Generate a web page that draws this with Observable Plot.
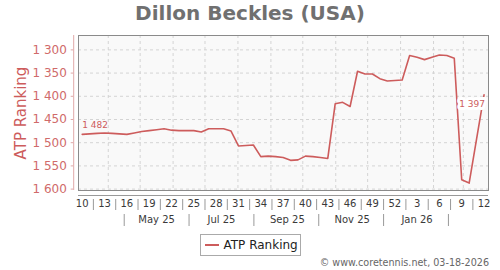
<!DOCTYPE html>
<html><head><meta charset="utf-8">
<script src="https://cdn.jsdelivr.net/npm/d3@7"></script>
<script src="https://cdn.jsdelivr.net/npm/@observablehq/plot@0.6"></script>
<style>
body{margin:0;background:#fff;font-family:"DejaVu Sans",sans-serif;}
#wrap{width:500px;height:270px;overflow:hidden;}
#title{height:28px;line-height:26px;text-align:center;font-weight:bold;font-size:20px;color:#707070;}
#chart svg{display:block;}
#legend{height:24px;padding-top:2px;box-sizing:border-box;display:flex;justify-content:center;}
#legend .box{width:101px;height:22px;box-sizing:border-box;border:1px solid #aaa;display:flex;align-items:center;padding-left:4px;font-size:12px;color:#222;}
#legend .sw{width:14px;height:2px;background:#cd5c5c;margin-right:5px;}
#caption{height:14px;line-height:14px;text-align:right;padding-right:11px;font-size:9.6px;color:#666;}
</style></head>
<body><div id="wrap">
<div id="title">Dillon Beckles (USA)</div>
<div id="chart"></div>
<div id="legend"><div class="box"><span class="sw"></span><span>ATP Ranking</span></div></div>
<div id="caption">© www.coretennis.net, 03-18-2026</div>
</div>
<script>
// ---- data ----
const firstWeek = "2025-03-07T12:00:00Z";
const ranking = [1482,1481,1480,1479,1480,1481,1482,1479,1476,1474,1472,1470,1473,1474,1474,1474,1477,1470,1470,1470,1475,1507,1506,1505,1530,1529,1530,1532,1538,1537,1529,1530,1532,1534,1416,1413,1422,1346,1352,1352,1362,1367,1366,1365,1312,1316,1321,1316,1311,1312,1318,1580,1587,1492,1397];
const weekLabels = [10,13,16,19,22,25,28,31,34,37,40,43,46,49,52,3,6,9,12];
const monthLabels = ["May 25","Jul 25","Sep 25","Nov 25","Jan 26"];
const monthLabelDates = ["2025-05-16","2025-07-16","2025-09-16","2025-11-16","2026-01-16"];
const monthSepDates = ["2025-04-16","2025-06-16","2025-08-16","2025-10-16","2025-12-16","2026-02-15"];
const yTicks = [1300,1350,1400,1450,1500,1550,1600];

// ---- build ----
const DAY = 864e5;
const t0 = new Date(firstWeek);
const data = ranking.map((r, i) => ({date: new Date(+t0 + i * 7 * DAY), rank: r}));
const weekTickDates = weekLabels.map((_, k) => new Date(+t0 + k * 21 * DAY));
const weekLabelOf = new Map(weekTickDates.map((d, k) => [+d, weekLabels[k]]));
const weekSeps = weekLabels.slice(1).map((_, k) => new Date(+t0 + (1.5 + 3 * k) * 7 * DAY));
const mLabDates = monthLabelDates.map(s => new Date(s + "T12:00:00Z"));
const monthLabelOf = new Map(mLabDates.map((d, k) => [+d, monthLabels[k]]));
const mSepDates = monthSepDates.map(s => new Date(s + "T00:00:00Z"));
const gridMonths = d3.utcMonth.range(new Date("2025-04-01T00:00:00Z"), new Date("2026-03-02T00:00:00Z"));
const xDomain = [new Date(+t0 - 3.5 * DAY), new Date(+t0 + 382.2 * DAY)];
const yDomain = [1269, 1603];
const fmt = v => d3.format(",")(v).replace(",", " ");
const red = "#cd5c5c";

const chart = Plot.plot({
  width: 500, height: 204,
  marginTop: 7, marginBottom: 42, marginLeft: 78, marginRight: 12,
  style: {fontFamily: "DejaVu Sans", background: "transparent"},
  x: {type: "utc", domain: xDomain, label: null},
  y: {domain: yDomain, reverse: true, label: null},
  marks: [
    Plot.frame({fill: "#f9f9f9"}),
    Plot.gridX(gridMonths, {stroke: "#d4d4d4", strokeOpacity: 1, strokeDasharray: "3,3"}),
    Plot.gridY(yTicks, {stroke: "#d4d4d4", strokeOpacity: 1, strokeDasharray: "3,3"}),
    Plot.line(data, {x: "date", y: "rank", stroke: red, strokeWidth: 1.6}),
    Plot.text([data[0]], {x: "date", y: "rank", text: d => fmt(d.rank), textAnchor: "start", dy: -9, fontSize: 9, fill: red}),
    Plot.text([data[data.length - 1]], {x: "date", y: "rank", text: d => fmt(d.rank), textAnchor: "end", dy: 9, dx: 1, fontSize: 9, fill: red, stroke: "white", strokeWidth: 6, paintOrder: "stroke"}),
    Plot.frame({stroke: "#8a8a8a"}),
    Plot.ruleX([xDomain[0]], {dx: -4.8, stroke: "#e0a8a8"}),
    Plot.ruleY([yDomain[1]], {dy: 5, stroke: "#999"}),
    Plot.axisY(yTicks, {anchor: "left", tickSize: 2.5, tickPadding: 4.3, dx: -4.8, tickFormat: fmt, fontSize: 12, fill: "#d06a6a", stroke: "#e0a8a8", label: null}),
    Plot.text(["ATP Ranking"], {frameAnchor: "left", textAnchor: "middle", rotate: -90, dx: -57, fontSize: 15, fill: red}),
    Plot.axisX(weekTickDates, {anchor: "bottom", tickSize: 0, tickPadding: 9.5, tickFormat: d => weekLabelOf.get(+d), fontSize: 10, fill: "#3a3a3a", label: null}),
    Plot.axisX(weekSeps, {anchor: "bottom", tickSize: 11, dy: 9, tickFormat: () => "", stroke: "#999", label: null}),
    Plot.axisX(mLabDates, {anchor: "bottom", tickSize: 0, tickPadding: 25.5, tickFormat: d => monthLabelOf.get(+d), fontSize: 10, fill: "#3a3a3a", label: null}),
    Plot.axisX(mSepDates, {anchor: "bottom", tickSize: 12, dy: 24, tickFormat: () => "", stroke: "#999", label: null})
  ]
});
document.getElementById("chart").appendChild(chart);
</script>
</body></html>
